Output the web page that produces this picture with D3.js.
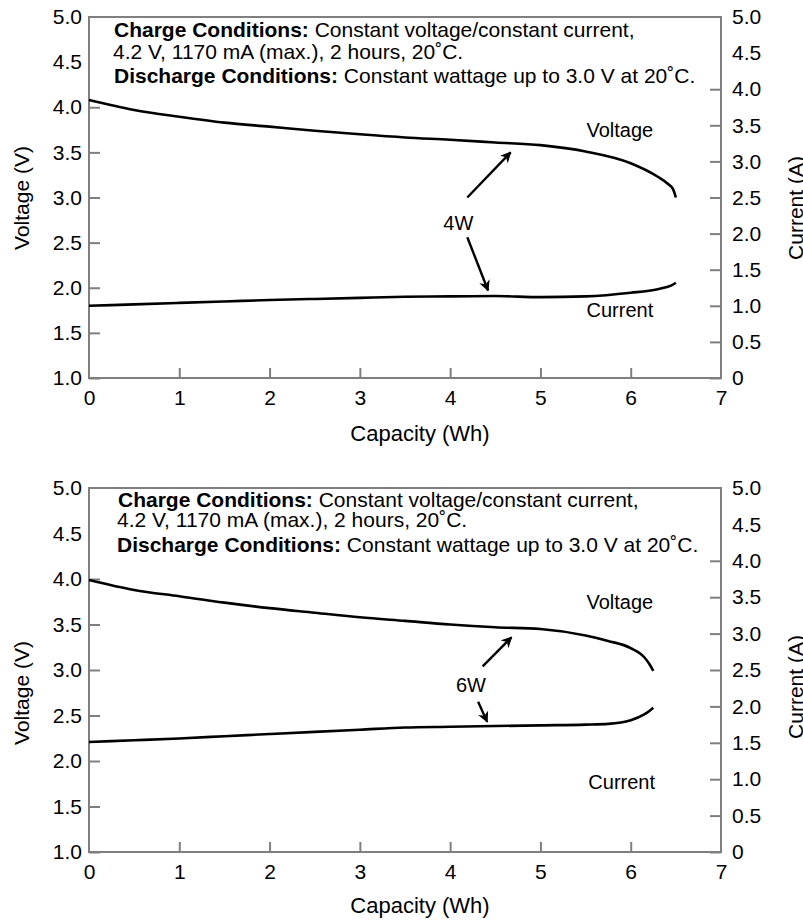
<!DOCTYPE html>
<html>
<head>
<meta charset="utf-8">
<script src="https://cdn.jsdelivr.net/npm/d3@7"></script>
<style>
  body { margin: 0; background: #fff; }
  svg { display: block; font-family: "Liberation Sans", Arial, Helvetica, sans-serif; }
</style>
</head>
<body>
<div class="chart"></div>
<script>
let axisGray = "#7f7f7f";
let ink = "#000000";

// axis ticks
const capTicks = [0, 1, 2, 3, 4, 5, 6, 7];
const voltTicks = [1.0, 1.5, 2.0, 2.5, 3.0, 3.5, 4.0, 4.5, 5.0];
const currTicks = [0, 0.5, 1.0, 1.5, 2.0, 2.5, 3.0, 3.5, 4.0, 4.5, 5.0];

// 4W discharge (top panel)
const cap4W  = [0, 0.5, 1, 1.5, 2, 2.5, 3, 3.5, 4, 4.5, 5, 5.5, 6, 6.3, 6.4, 6.47, 6.5];
const volt4W = [4.08, 3.97, 3.895, 3.83, 3.785, 3.74, 3.70, 3.665, 3.64, 3.61, 3.58, 3.51, 3.38, 3.23, 3.16, 3.09, 3.0];
const curr4W = [1.00, 1.02, 1.04, 1.06, 1.08, 1.095, 1.11, 1.125, 1.13, 1.135, 1.12, 1.13, 1.18, 1.23, 1.26, 1.295, 1.32];

// 6W discharge (bottom panel)
const cap6W  = [0, 0.5, 1, 1.5, 2, 2.5, 3, 3.5, 4, 4.5, 5, 5.5, 5.75, 6, 6.15, 6.21, 6.25];
const volt6W = [3.99, 3.88, 3.81, 3.74, 3.68, 3.63, 3.58, 3.54, 3.50, 3.47, 3.45, 3.38, 3.32, 3.24, 3.14, 3.06, 2.99];
const curr6W = [1.51, 1.535, 1.56, 1.59, 1.62, 1.65, 1.68, 1.71, 1.72, 1.73, 1.74, 1.75, 1.76, 1.81, 1.89, 1.94, 1.98];

// annotation arrows [x1, v1, x2, v2] in capacity / voltage units
const arrows4W = [[4.19, 3.0, 4.67, 3.5], [4.19, 2.56, 4.42, 1.97]];
const arrows6W = [[4.36, 3.04, 4.68, 3.36], [4.31, 2.65, 4.41, 2.43]];

const conditionLines = [
  ["Charge Conditions:", " Constant voltage/constant current,"],
  ["", "4.2 V, 1170 mA (max.), 2 hours, 20˚C."],
  ["Discharge Conditions:", " Constant wattage up to 3.0 V at 20˚C."]
];

const width = 803, height = 920;
const left = 89, right = 721;

const panels = [
  { top: 17, bottom: 378, cap: cap4W, volt: volt4W, curr: curr4W, arrows: arrows4W,
    tag: "4W", tagAt: [4.09, 2.72], voltAt: [5.88, 3.75], currAt: [5.88, 1.75],
    textX: [25, 24, 25], textY: [20, 42, 66], vTitleY: 198, cTitleY: 208, xTitleY: 441 },
  { top: 488, bottom: 852, cap: cap6W, volt: volt6W, curr: curr6W, arrows: arrows6W,
    tag: "6W", tagAt: [4.23, 2.84], voltAt: [5.88, 3.75], currAt: [5.9, 1.77],
    textX: [29, 28, 28], textY: [19, 39, 64], vTitleY: 693, cTitleY: 687, xTitleY: 913 }
];

const svg = d3.select(".chart").append("svg")
  .attr("width", width)
  .attr("height", height);

svg.append("defs").append("marker")
  .attr("id", "head")
  .attr("viewBox", "0 0 10 10")
  .attr("refX", 9).attr("refY", 5)
  .attr("markerWidth", 11).attr("markerHeight", 11)
  .attr("markerUnits", "userSpaceOnUse")
  .attr("orient", "auto")
  .append("path")
  .attr("d", "M0,0 L10,5 L0,10 L3,5 Z")
  .attr("fill", ink);

panels.forEach(p => drawPanel(p));

function drawPanel(p) {
  const x = d3.scaleLinear().domain([0, 7]).range([left, right]);
  const yV = d3.scaleLinear().domain([1, 5]).range([p.bottom, p.top]);
  const yC = d3.scaleLinear().domain([0, 5]).range([p.bottom, p.top]);

  const g = svg.append("g");

  // left axis (voltage)
  g.append("g")
    .attr("transform", `translate(${left},0)`)
    .call(d3.axisLeft(yV).tickValues(voltTicks).tickSizeInner(-11).tickSizeOuter(0).tickPadding(7)
      .tickFormat(d3.format(".1f")))
    .call(a => a.select(".domain").remove())
    .call(a => a.selectAll(".tick line").filter(d => d > 4.01).remove());

  // right axis (current)
  g.append("g")
    .attr("transform", `translate(${right},0)`)
    .call(d3.axisRight(yC).tickValues(currTicks).tickSizeInner(-11).tickSizeOuter(0).tickPadding(11)
      .tickFormat(d => d === 0 ? "0" : d3.format(".1f")(d)))
    .call(a => a.select(".domain").remove())
    .call(a => a.selectAll(".tick line").filter(d => d > 4.01).remove());

  // bottom axis (capacity)
  g.append("g")
    .attr("transform", `translate(0,${p.bottom})`)
    .call(d3.axisBottom(x).tickValues(capTicks).tickSizeInner(-10).tickSizeOuter(0).tickPadding(12)
      .tickFormat(d3.format("d")))
    .call(a => a.select(".domain").remove())
    .call(a => a.selectAll(".tick line").filter(d => d === 0 || d === 7).remove());

  g.selectAll(".tick line").attr("stroke", axisGray).attr("stroke-width", 2);
  g.selectAll(".tick text")
    .attr("fill", ink)
    .style("font-size", "21px");

  // frame
  g.append("rect")
    .attr("x", left).attr("y", p.top)
    .attr("width", right - left).attr("height", p.bottom - p.top)
    .attr("fill", "none")
    .attr("stroke", axisGray)
    .attr("stroke-width", 2);

  // axis titles
  g.append("text")
    .attr("x", 420).attr("y", p.xTitleY)
    .attr("text-anchor", "middle")
    .style("font-size", "22px")
    .text("Capacity (Wh)");

  g.append("text")
    .attr("transform", `translate(29,${p.vTitleY}) rotate(-90)`)
    .attr("text-anchor", "middle")
    .style("font-size", "21px")
    .text("Voltage (V)");

  g.append("text")
    .attr("transform", `translate(803,${p.cTitleY}) rotate(-90)`)
    .attr("text-anchor", "middle")
    .style("font-size", "21px")
    .text("Current (A)");

  // conditions text
  conditionLines.forEach((ln, i) => {
    const t = g.append("text")
      .attr("x", left + p.textX[i])
      .attr("y", p.top + p.textY[i])
      .style("font-size", "21px");
    if (ln[0]) t.append("tspan").style("font-weight", "bold").text(ln[0]);
    t.append("tspan").text(ln[1]);
  });

  // curves
  const voltData = p.cap.map((c, i) => ({ c: c, v: p.volt[i] }));
  const currData = p.cap.map((c, i) => ({ c: c, v: p.curr[i] }));

  g.append("path")
    .datum(voltData)
    .attr("fill", "none")
    .attr("stroke", ink)
    .attr("stroke-width", 2.6)
    .attr("d", d3.line().x(d => x(d.c)).y(d => yV(d.v)).curve(d3.curveMonotoneX));

  g.append("path")
    .datum(currData)
    .attr("fill", "none")
    .attr("stroke", ink)
    .attr("stroke-width", 2.6)
    .attr("d", d3.line().x(d => x(d.c)).y(d => yC(d.v)).curve(d3.curveMonotoneX));

  // labels
  g.append("text")
    .attr("x", x(p.voltAt[0])).attr("y", yV(p.voltAt[1]))
    .attr("text-anchor", "middle").attr("dy", "0.35em")
    .style("font-size", "20px")
    .text("Voltage");

  g.append("text")
    .attr("x", x(p.currAt[0])).attr("y", yV(p.currAt[1]))
    .attr("text-anchor", "middle").attr("dy", "0.35em")
    .style("font-size", "20px")
    .text("Current");

  g.append("text")
    .attr("x", x(p.tagAt[0])).attr("y", yV(p.tagAt[1]))
    .attr("text-anchor", "middle").attr("dy", "0.35em")
    .style("font-size", "20px")
    .text(p.tag);

  g.selectAll(".arrow")
    .data(p.arrows)
    .enter()
    .append("line")
    .attr("class", "arrow")
    .attr("x1", d => x(d[0])).attr("y1", d => yV(d[1]))
    .attr("x2", d => x(d[2])).attr("y2", d => yV(d[3]))
    .attr("stroke", ink)
    .attr("stroke-width", 2.4)
    .attr("marker-end", "url(#head)");
}
</script>
</body>
</html>
